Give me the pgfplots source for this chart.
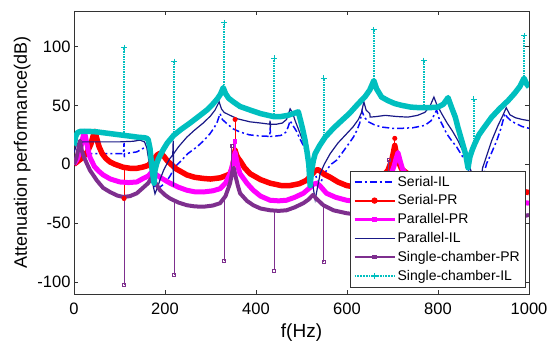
\documentclass[border=0pt]{standalone}
\usepackage{pgfplots}
\pgfplotsset{compat=1.18}
\usepackage{fontspec}
\setmainfont{Liberation Sans}
\definecolor{navyc}{RGB}{25,25,135}
\definecolor{purplec}{RGB}{126,47,142}
\definecolor{cyanc}{RGB}{0,191,191}
\definecolor{magc}{RGB}{255,0,255}
\definecolor{redc}{RGB}{255,0,0}
\definecolor{bluec}{RGB}{10,10,255}
\pgfplotsset{
 cspike/.style={forget plot, color=cyanc, densely dotted, line width=1.5pt, mark=+, mark size=3pt, mark options={solid, line width=1pt}, mark indices={2}},
 pspike/.style={forget plot, color=purplec, solid, line width=0.8pt, mark=square, mark size=1.5pt, mark options={solid}, mark indices={2}},
}
\begin{document}
\begin{tikzpicture}
\begin{axis}[name=ax, scale only axis, width=455pt, height=283pt,
 xmin=0, xmax=1000, ymin=-110, ymax=130,
 xtick={0,200,400,600,800,1000}, ytick={-100,-50,0,50,100},
 tick pos=both, tick align=inside, major tick length=4pt,
 axis line style={black!80, line width=0.6pt}, tick style={black!80, line width=0.6pt},
 /pgf/number format/assume math mode=true,
 /pgf/number format/1000 sep={},
 tick label style={font=\fontsize{16.5}{19}\selectfont},
 xticklabel shift=5pt,
 xlabel={f(Hz)}, ylabel={Attenuation performance(dB)},
 xlabel style={font=\fontsize{19}{22}\selectfont, yshift=-3pt},
 ylabel style={font=\fontsize{18}{21}\selectfont},
 legend cell align=left,
 legend style={at={(1,0)}, anchor=south east, xshift=-4pt, yshift=7pt, font=\fontsize{14}{16}\selectfont, draw=black!80, fill=white, inner xsep=3pt, inner ysep=3pt, row sep=3.2pt},
 legend image code/.code={\draw[mark repeat=2,mark phase=2,#1] plot coordinates {(0pt,0pt) (20pt,0pt) (40pt,0pt)};},
 scaled ticks=false,
]
\addlegendimage{bluec, dash pattern=on 7pt off 3pt on 2pt off 3pt, line width=1.8pt}
\addlegendentry{Serial-IL}
\addlegendimage{redc, line width=2.2pt, mark=*, mark size=2pt}
\addlegendentry{Serial-PR}
\addlegendimage{magc, line width=2.2pt, mark=square*, mark size=1.8pt}
\addlegendentry{Parallel-PR}
\addlegendimage{navyc, line width=1.4pt}
\addlegendentry{Parallel-IL}
\addlegendimage{purplec, line width=1.4pt, mark=square, mark size=1.5pt}
\addlegendentry{Single-chamber-PR}
\addlegendimage{cyanc, densely dotted, line width=1.8pt, mark=+, mark size=3pt, mark options={solid}}
\addlegendentry{Single-chamber-IL}

% Serial-IL
\addplot[forget plot, bluec, line width=1.5pt, dash pattern=on 7pt off 3pt on 2pt off 3pt] coordinates {
(0,3) (5,7) (10,8.5) (30,9) (60,9) (100,9) (109,9) (110,18) (110.5,6) (111,9) (120,9.5) (138,10.5) (152,13.5) (160,15) (163,14) (166,8) (170,-2) (174,-12) (178,-19) (182,-21) (190,-19) (197,-17) (204,-14) (211,-10) (218,-5) (225,-1) (233,2) (250,9) (270,14.7) (285,20) (299,26) (308,31) (315,36) (321,43) (326,38) (336,34.5) (350,30) (365,27.4) (385,25) (409,24) (430,23.7) (431,31) (432,23.7) (438,23.7) (455,24.5) (465,27) (470,31) (475,37) (481,33) (489,28) (496,22) (504,16) (511,9) (519,3) (525,-3) (530,-8) (535,-14) (540,-18) (546,-12) (555,-5) (565,0) (577,3.4) (590,10) (603,17) (614,23) (622,29) (628,35) (633,45) (638,40) (647,36) (660,33.5) (676,31.6) (700,30.5) (720,30.5) (745,31) (771,33) (785,37) (797,46) (803,38) (808,34.7) (819,26) (830,20) (841,14.7) (850,9) (859,3.4) (866,-3) (872,-12) (880,-25) (886,-30) (892,-22) (898,-12) (903,-5) (907,0.8) (918,10) (929,20) (938,30) (947,43) (952,40) (960,37) (969,35) (985,32) (1000,30.5)
};

% Serial-PR
\addplot[forget plot, redc, line width=5.5pt, line join=round] coordinates {
(0,0) (10,3) (20,6) (30,11) (37,17) (42,24) (46,28) (50,22) (55,15) (62,9) (70,5) (79,2) (90,0) (108,-2.5) (125,-3.5) (138,-3.4) (150,-2.5) (163,-1) (175,4) (183,8) (190,9.5) (197,7) (205,3) (211,0.8) (225,-4) (248,-9) (265,-11) (284,-12) (300,-12.5) (321,-11.5) (335,-9.5) (343,-8) (348,-3) (352,5) (354,12) (357,8) (361,5) (365,3) (375,-3) (387,-8) (410,-13) (431,-16) (455,-18) (475,-18) (495,-16.5) (511,-13.6) (522,-9) (530,-5.5) (536,-4.5) (542,-6) (550,-8.5) (563,-11) (580,-15) (599,-18) (620,-19.5) (640,-19) (660,-16) (675,-12) (690,-5) (698,3) (702,10) (705,16) (708,10) (712,3) (720,-4) (740,-10) (760,-14) (785,-17) (810,-18) (830,-17.5) (850,-15) (865,-11) (875,-9) (885,-8.5) (895,-9) (910,-12) (930,-16) (950,-19) (975,-22) (1000,-24)
};
\addplot[forget plot, redc, line width=1pt, mark=*, mark size=2pt, mark indices={2}] coordinates {(110,-3) (110,-29)};
\addplot[forget plot, redc, line width=1pt, mark=*, mark size=2pt, mark indices={2}] coordinates {(354,12) (354,38)};
\addplot[forget plot, redc, line width=1pt, mark=*, mark size=2pt, mark indices={2}] coordinates {(705,16) (705,22)};

% Parallel-PR
\addplot[forget plot, magc, line width=5pt, line join=round] coordinates {
(0,0) (8,5) (14,12) (19,22) (23,28) (27,20) (31,12) (35,6) (45,-2) (55,-6) (64,-9) (80,-12.5) (101,-15) (120,-15.5) (138,-15) (152,-12) (163,-10) (171,-6.5) (178,-8) (189,-11) (211,-16) (230,-19.5) (248,-22) (265,-23.3) (284,-23.5) (305,-22.5) (321,-20.7) (333,-16) (343,-8) (348,-1) (352,6) (354,10) (357,4) (361,-3) (365,-8) (380,-16) (394,-22) (410,-27) (431,-30.5) (450,-31) (467,-30.5) (485,-28) (504,-24.6) (518,-20) (526,-17) (533,-16) (540,-18) (555,-24.6) (575,-28) (599,-30.5) (620,-31.5) (640,-30) (660,-26) (680,-19) (695,-10) (703,-2) (708,5) (712,10) (716,4) (722,-4) (735,-12) (750,-18) (770,-23) (790,-27) (810,-29.5) (830,-29) (850,-26) (868,-20) (880,-17) (890,-17.5) (900,-20) (920,-25) (945,-29) (970,-31.5) (1000,-33)
};
\addplot[forget plot, magc, line width=1.2pt, mark=square*, mark size=1.8pt, mark indices={2}] coordinates {(354,10) (354,19)};

% Parallel-IL
\addplot[forget plot, navyc, line width=1.2pt] coordinates {
(0,10) (5,16) (10,18.5) (20,19) (60,19) (100,19) (130,19.5) (145,20.5) (155,19) (160,14) (165,2) (170,-10) (175,-20) (178,-25) (181,-22) (185,-18) (190,-12) (197,-5) (205,1) (211,5) (217,8) (218,20) (218.5,-19) (219,9) (230,15) (248,23) (265,29) (284,35) (300,41) (310,46) (319,53) (324,47) (330,44) (343,41.5) (360,38.5) (387,36) (410,35) (430,34) (431,37) (431.5,31) (432,34) (445,34) (458,35) (467,38) (475,47) (480,44) (486,37) (495,28) (502,21) (508,14.7) (514,5) (519,-5) (525,-18) (530,-30) (534,-22) (541,-8) (550,0) (563,9) (580,18) (597,25) (613,31.6) (625,38) (632,44) (637,53) (642,46) (650,43) (651,40) (665,40.5) (684,41.5) (710,40.5) (734,40) (755,41.5) (771,44) (782,49) (791,57) (797,51) (808,43) (820,35) (832,28) (844,20) (855,11) (865,2) (875,-8) (882,-20) (888,-30) (893,-18) (898,-3) (905,5) (918,20) (932,33) (942,41) (950,48) (958,42) (970,39.5) (985,38) (1000,37)
};

% Single-chamber-PR
\addplot[forget plot, purplec, line width=4pt, line join=round] coordinates {
(0,0) (5,5) (9,12) (13,20) (17,12) (22,6) (28,0.8) (35,-5) (42,-9) (50,-13.6) (64,-20) (79,-23.5) (95,-26.5) (108,-27.7) (123,-27) (138,-24.6) (150,-20.5) (163,-16) (168,-13) (173,-10.7) (178,-15) (189,-22) (200,-26) (211,-29) (230,-32.5) (248,-34.7) (265,-35.7) (284,-36) (305,-35) (321,-33) (333,-27) (343,-16) (348,-6) (351,-3) (355,-10) (360,-18) (365,-24.6) (380,-31) (394,-34.7) (410,-37.5) (431,-39) (450,-39.5) (467,-39) (485,-36.5) (504,-33) (515,-30) (525,-26) (535,-30) (548,-34.7) (570,-39) (599,-41.5) (620,-42.5) (645,-41.5) (665,-37) (680,-29) (690,-18) (697,-10) (703,-18) (712,-28) (730,-36) (755,-41) (780,-44) (800,-45) (830,-42) (855,-35) (872,-30) (890,-36) (920,-43) (950,-45.5) (975,-45) (1000,-43)
};
\addplot[pspike] coordinates {(110,-27.7) (110,-102)};
\addplot[pspike] coordinates {(220,-31) (220,-94)};
\addplot[pspike] coordinates {(330,-30) (330,-82)};
\addplot[pspike] coordinates {(440,-39) (440,-90)};
\addplot[pspike] coordinates {(549,-35) (549,-83)};
\addplot[pspike] coordinates {(347,-4) (347,16)};
\addplot[pspike] coordinates {(692,-15) (692,4)};

% Single-chamber-IL
\addplot[forget plot, cyanc, line width=5.5pt, line join=round] coordinates {
(0,16) (4,24) (8,27) (15,28) (30,28) (50,27.5) (70,26.5) (90,25.5) (108,24.6) (125,23.8) (140,23) (155,22.5) (160,22) (163,21) (167,13.5) (171,-2) (174,-11) (176,-16) (178,-5) (182,1) (186,5) (190,8) (197,13) (205,18) (219,24.5) (235,29.5) (255,35) (272,40) (292,46) (305,51) (315,55.5) (322,59.5) (328,65) (333,60) (340,56) (350,53) (365,49) (387,46) (410,43) (438,40.5) (455,40.5) (470,41.5) (482,43) (493,44.5) (498,37) (503,29) (508,20) (512,11) (516,0) (519,-18) (522,-6) (526,3) (530,9) (540,16) (552,23) (570,30.5) (588,37) (605,43) (625,51.5) (640,57.5) (650,63) (659,71) (665,64) (676,57) (690,54) (705,51.5) (720,50) (740,48.5) (760,48) (780,48) (800,48.5) (812,51) (822,56.5) (830,48) (838,40) (844,31) (850,23) (856,15) (861,8) (866,-3) (870,6) (875,12) (881,17.6) (890,25) (900,30.5) (918,40) (935,47) (954,54) (968,60) (980,66) (989,73) (995,68) (1000,65.5)
};
\addplot[cspike] coordinates {(110,24.6) (110,99)};
\addplot[cspike] coordinates {(220,24.6) (220,87)};
\addplot[cspike] coordinates {(330,63) (330,120)};
\addplot[cspike] coordinates {(440,40.5) (440,90)};
\addplot[cspike] coordinates {(549,22) (549,73)};
\addplot[cspike] coordinates {(659,70) (659,114)};
\addplot[cspike] coordinates {(769,48) (769,88)};
\addplot[cspike] coordinates {(879,17) (879,55)};
\addplot[cspike] coordinates {(989,72) (989,109)};
\end{axis}
\pgfresetboundingbox
\path ([shift={(-74pt,-59pt)}]ax.south west) rectangle ([shift={(21pt,11pt)}]ax.north east);
\end{tikzpicture}
\end{document}
